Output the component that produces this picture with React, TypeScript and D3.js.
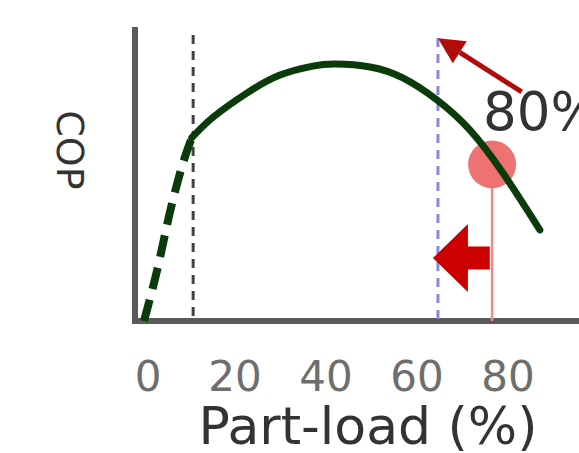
import React from "react";
import * as d3 from "d3";

const W = 579;
const H = 453;

// Data
const tickValues = [0, 20, 40, 60, 80];
const dashedLoad = [0, 2.9, 5.3, 7.5, 9.0, 10.5];
const dashedCop = [0, 0.176, 0.348, 0.486, 0.566, 0.632];
const solidLoad = [10.5, 15.2, 22.6, 29.9, 37.1, 42, 49.7, 56.9, 64.4, 71.6, 78.9, 87.0];
const solidCop = [0.632, 0.703, 0.786, 0.848, 0.879, 0.886, 0.876, 0.838, 0.762, 0.659, 0.51, 0.314];
const minLoad = 10.8;
const shiftedLoad = 64.6;
const designLoad = 76.5;
const designCop = 0.54;
const designLabel = "80%";
const xLabel = "Part-load (%)";
const yLabel = "COP";

export default function App() {
  const x = d3.scaleLinear().domain([0, 80]).range([144, 508]);
  const y = d3.scaleLinear().domain([0, 1]).range([321, 31]);

  const dashedPts: [number, number][] = dashedLoad.map((l, i) => [x(l), y(dashedCop[i])]);
  const solidPts: [number, number][] = solidLoad.map((l, i) => [x(l), y(solidCop[i])]);
  const gen = d3.line().curve(d3.curveNatural);

  const axisColor = "#5a5a5a";
  const curveColor = "#0b3a0b";

  // thin arrow
  const ax0 = x(83), ay0 = y(0.79);
  const ax1 = x(shiftedLoad), ay1 = y(0.975);
  const ang = Math.atan2(ay1 - ay0, ax1 - ax0);
  const hl = 26, hw = 13;
  const bx = ax1 - hl * Math.cos(ang), by = ay1 - hl * Math.sin(ang);
  const px = -Math.sin(ang), py = Math.cos(ang);
  const head = `M${ax1},${ay1} L${bx + hw * px},${by + hw * py} L${bx - hw * px},${by - hw * py} Z`;

  // block arrow
  const tipX = x(63.5), tailX = x(76);
  const cy = y(0.217);
  const headLen = 35, headHalf = 34, shaftHalf = 11.5;
  const block = `M${tipX},${cy} L${tipX + headLen},${cy - headHalf} L${tipX + headLen},${cy - shaftHalf} L${tailX},${cy - shaftHalf} L${tailX},${cy + shaftHalf} L${tipX + headLen},${cy + shaftHalf} L${tipX + headLen},${cy + headHalf} Z`;

  const font = "'DejaVu Sans', Verdana, sans-serif";

  return (
    <svg width={W} height={H} style={{ position: "absolute", left: 0, top: 0, background: "#fff" }}>
      {/* axes */}
      <line x1={x(0) - 9} x2={x(0) - 9} y1={27} y2={y(0) + 3} stroke={axisColor} strokeWidth={6} />
      <line x1={x(0) - 12} x2={W} y1={y(0)} y2={y(0)} stroke={axisColor} strokeWidth={6} />

      {/* vertical reference lines */}
      <line x1={x(minLoad)} x2={x(minLoad)} y1={35} y2={y(0)} stroke="#444" strokeWidth={3} strokeDasharray="9 7" />
      <line x1={x(shiftedLoad)} x2={x(shiftedLoad)} y1={38} y2={y(0)} stroke="#8a86e0" strokeWidth={3} strokeDasharray="9 7" />

      {/* design point */}
      <line x1={x(designLoad)} x2={x(designLoad)} y1={y(designCop)} y2={y(0)} stroke="#ee8a8a" strokeWidth={2.5} />
      <circle cx={x(designLoad)} cy={y(designCop)} r={24} fill="#ee7272" />

      {/* curve */}
      <path d={gen(dashedPts) || ""} fill="none" stroke={curveColor} strokeWidth={8} strokeDasharray="22 11" />
      <path d={gen(solidPts) || ""} fill="none" stroke={curveColor} strokeWidth={7} strokeLinecap="round" />

      {/* thin arrow */}
      <line x1={ax0} y1={ay0} x2={bx} y2={by} stroke="#b00c0c" strokeWidth={5} />
      <path d={head} fill="#b00c0c" />

      {/* block arrow */}
      <path d={block} fill="#cc0000" />

      {/* 80% label */}
      <text x={x(74.5)} y={y(0.66)} fontSize={53} fill="#333" fontFamily={font}>
        {designLabel}
      </text>

      {/* tick labels */}
      {tickValues.map((t) => (
        <text key={t} x={x(t) + (t === 0 ? 4 : 0)} y={391} textAnchor="middle" fontSize={42} fill="#6e6e6e" fontFamily={font}>
          {t}
        </text>
      ))}

      {/* axis titles */}
      <text x={368} y={444} textAnchor="middle" fontSize={52} fill="#333" fontFamily={font}>
        {xLabel}
      </text>
      <text transform={`translate(57,150) rotate(90)`} textAnchor="middle" fontSize={38} fill="#333" fontFamily={font}>
        {yLabel}
      </text>
    </svg>
  );
}
